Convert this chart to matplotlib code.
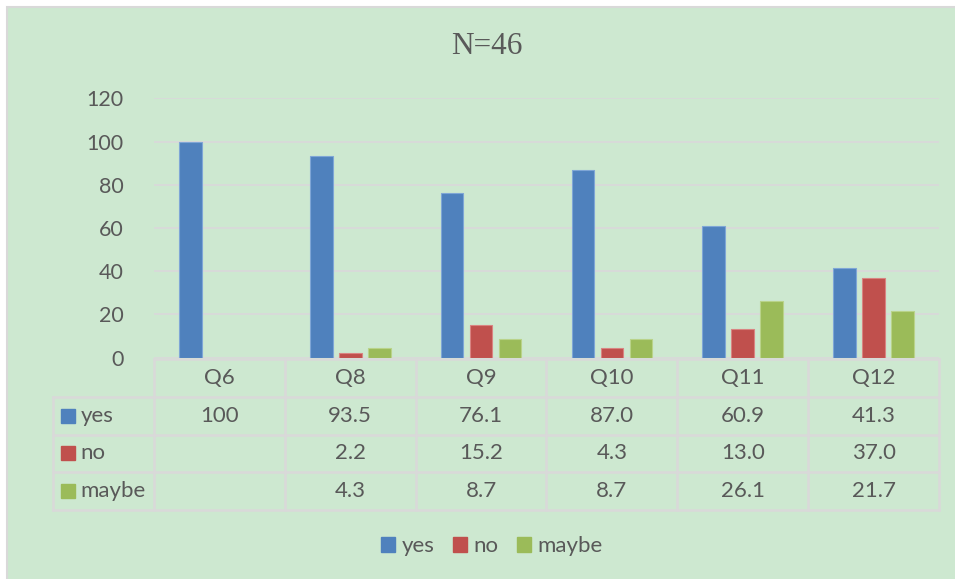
import numpy as np
import matplotlib
matplotlib.use('Agg')
import matplotlib.pyplot as plt
from matplotlib.patches import Rectangle, Patch

# datos
preguntas = ['Q6', 'Q8', 'Q9', 'Q10', 'Q11', 'Q12']
series = ['yes', 'no', 'maybe']
yes = [100, 93.5, 76.1, 87.0, 60.9, 41.3]
no = [np.nan, 2.2, 15.2, 4.3, 13.0, 37.0]
maybe = [np.nan, 4.3, 8.7, 8.7, 26.1, 21.7]
titulo = 'N=46'

colores = ['#4F81BD', '#C0504D', '#9BBB59']
bordes = ['#7FA6D6', '#D98482', '#B9D38A']
fondo = '#CDE8D0'
gris = '#595959'
linea = '#D9D9D9'
fuente = 'Lato'

W, H = 955, 579
fig = plt.figure(figsize=(W / 100, H / 100), dpi=100)
fig.patch.set_facecolor('white')

# marco del grafico
fig.patches.append(Rectangle((7 / W, -0.01), 1.02, 1 - 7 / H + 0.01, transform=fig.transFigure,
                             facecolor=fondo, edgecolor=linea, lw=1.5, zorder=-10))

def px(x0, y0, x1, y1):
    return [x0 / W, 1 - y1 / H, (x1 - x0) / W, (y1 - y0) / H]

# barras
ax = fig.add_axes(px(154, 98.3, 939, 357.5))
ax.set_facecolor('none')
x = np.arange(len(preguntas)) + 0.5
ancho = 0.173
sep = 0.222
datos = [yes, no, maybe]
for i, vals in enumerate(datos):
    ax.bar(x + (i - 1) * sep, vals, width=ancho, color=colores[i],
           edgecolor=bordes[i], lw=0.8, zorder=3)
ax.set_xlim(0, 6)
ax.set_ylim(0, 120)
ax.set_yticks(np.arange(0, 121, 20))
ax.set_xticks([])
for s in ax.spines.values():
    s.set_visible(False)
ax.grid(axis='y', color=linea, lw=1.3, zorder=0)
ax.tick_params(axis='y', length=0, pad=22, labelsize=15.5, labelcolor=gris)
for t in ax.get_yticklabels():
    t.set_fontfamily(fuente)

# tabla de datos
tb = fig.add_axes(px(52.7, 359, 939, 510))
tb.set_facecolor('none')
izq = -0.774
tb.set_xlim(izq, 6)
tb.set_ylim(4, 0)
tb.axis('off')
kw = dict(color=linea, lw=1.8, clip_on=False)
tb.plot([0, 6], [0, 0], **kw)
for r in range(1, 5):
    tb.plot([izq, 6], [r, r], **kw)
for c in range(0, 7):
    tb.plot([c, c], [0, 4], **kw)
tb.plot([izq, izq], [1, 4], **kw)

for j, q in enumerate(preguntas):
    tb.text(j + 0.5, 0.5, q, ha='center', va='center', fontsize=16,
            color=gris, family=fuente)

def fmt(v):
    if np.isnan(v):
        return ''
    if v == 100:
        return '100'
    return f'{v:.1f}'

for i, vals in enumerate(datos):
    fila = i + 1.5
    tb.plot([izq + 0.117], [fila], marker='s', ms=10, color=colores[i],
            mec=colores[i], clip_on=False)
    tb.text(izq + 0.214, fila, series[i], ha='left', va='center', fontsize=16,
            color=gris, family=fuente)
    for j, v in enumerate(vals):
        tb.text(j + 0.5, fila, fmt(float(v)), ha='center', va='center',
                fontsize=16, color=gris, family=fuente)

# titulo
fig.text(487 / W, 1 - 47 / H, titulo, ha='center', va='center', fontsize=22.5,
         color=gris, family='Liberation Serif')

# leyenda
handles = [Patch(facecolor=colores[i], edgecolor=colores[i], label=series[i]) for i in range(3)]
leg = fig.legend(handles=handles, loc='center', bbox_to_anchor=(492 / W, 1 - 546 / H),
                 ncol=3, frameon=False, handlelength=0.65, handleheight=0.65,
                 handletextpad=0.3, columnspacing=0.8,
                 prop={'family': fuente, 'size': 16})
for t in leg.get_texts():
    t.set_color(gris)

fig.savefig('out.png', dpi=100, facecolor=fig.get_facecolor())
